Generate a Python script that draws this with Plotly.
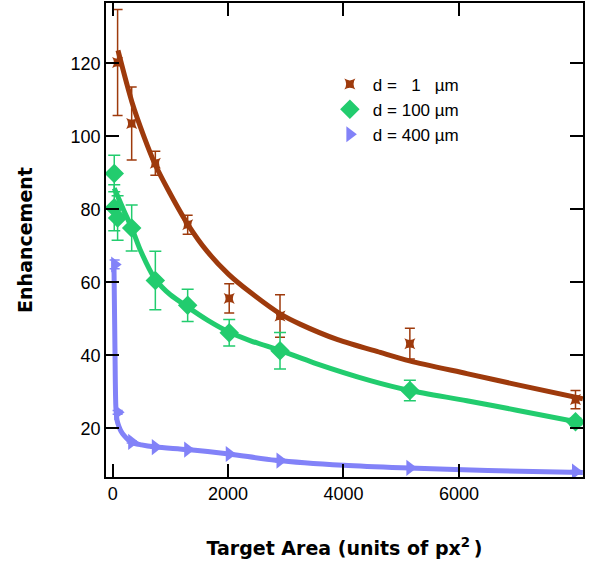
import plotly.graph_objects as go

# ---- data ----
x_brown = [86, 330, 740, 1300, 2020, 2900, 5150, 8020]
y_brown = [120.2, 103.5, 92.6, 75.8, 55.6, 50.8, 43.2, 27.9]
e_brown = [14.5, 10.0, 3.3, 2.6, 4.0, 5.8, 4.2, 2.5]

x_green = [28, 28, 86, 330, 740, 1300, 2020, 2900, 5150, 8020]
y_green = [89.8, 80.4, 77.6, 74.9, 60.5, 53.7, 46.2, 41.3, 30.4, 21.8]
e_green = [5.0, 6.3, 6.1, 6.3, 8.0, 4.4, 3.6, 5.0, 2.8, 1.0]

x_blue = [35, 86, 330, 740, 1300, 2020, 2900, 5150, 8020]
y_blue = [64.9, 24.4, 16.3, 14.9, 14.2, 13.0, 11.2, 9.2, 8.2]
e_blue = [1.2, 0.5, 0.3, 0.3, 0.3, 0.3, 0.3, 0.3, 0.3]

# fitted curves
fit_brown_x = [93, 334, 541, 731, 956, 1302, 1642, 2010, 2391, 2910, 3256, 3900, 4638, 5145, 6137, 7000, 8147]
fit_brown_y = [123.5, 109.4, 100.0, 92.5, 85.5, 75.9, 68.4, 62.2, 57.2, 51.3, 48.5, 44.3, 40.8, 38.5, 35.0, 32.0, 28.1]

fit_green_x = [28, 200, 346, 489, 731, 850, 1000, 1296, 1650, 2016, 2391, 2910, 3500, 4465, 5145, 6137, 7000, 8147]
fit_green_y = [85.8, 79.5, 74.3, 68.5, 61.0, 58.8, 56.6, 53.3, 49.6, 46.4, 44.0, 41.3, 37.9, 33.1, 30.4, 27.6, 25.0, 21.5]

fit_blue_x = [22, 40, 57, 80, 110, 143, 200, 316, 500, 748, 1296, 2016, 2823, 4000, 5010, 6500, 8147]
fit_blue_y = [66, 42, 25.5, 22, 20.5, 19.3, 18.0, 16.3, 15.5, 14.9, 14.2, 13.0, 11.3, 9.9, 9.2, 8.5, 7.9]

labels = ["d = \u20071\u2007 µm", "d = 100 µm", "d = 400 µm"]

c_brown = "#9E3A0C"
c_green = "#22CC6E"
c_blue = "#8282F8"

fig = go.Figure()

for fx, fy, c in [(fit_brown_x, fit_brown_y, c_brown),
                  (fit_green_x, fit_green_y, c_green),
                  (fit_blue_x, fit_blue_y, c_blue)]:
    fig.add_trace(go.Scatter(x=fx, y=fy, mode="lines", showlegend=False,
                             line=dict(color=c, width=5, shape="spline", smoothing=0.8),
                             hoverinfo="skip"))

fig.add_trace(go.Scatter(x=x_brown, y=y_brown, mode="markers", name=labels[0],
                         marker=dict(symbol="star-square", size=10, color=c_brown),
                         error_y=dict(type="data", array=e_brown, color=c_brown,
                                      thickness=1.5, width=5)))
fig.add_trace(go.Scatter(x=x_green, y=y_green, mode="markers", name=labels[1],
                         marker=dict(symbol="diamond", size=15, color=c_green),
                         error_y=dict(type="data", array=e_green, color=c_green,
                                      thickness=1.5, width=6)))
fig.add_trace(go.Scatter(x=x_blue, y=y_blue, mode="markers", name=labels[2],
                         marker=dict(symbol="triangle-right", size=14, color=c_blue),
                         error_y=dict(type="data", array=e_blue, color=c_blue,
                                      thickness=1.5, width=5)))

axis_common = dict(showline=True, linecolor="black", linewidth=1.5, mirror="allticks",
                   ticks="inside", ticklen=13, tickwidth=1.5, tickcolor="black",
                   showgrid=False, zeroline=False,
                   tickfont=dict(family="Liberation Sans, Arial", size=18, color="black"))

title_font = dict(family="DejaVu Sans", size=19, color="black", weight="bold")

fig.update_xaxes(range=[-115, 8150], tickvals=[0, 2000, 4000, 6000],
                 title=dict(text="Target Area (units of px<sup>2</sup>\u2009)", standoff=38,
                            font=title_font),
                 **axis_common)
fig.update_yaxes(range=[6.7, 136.5], tickvals=[20, 40, 60, 80, 100, 120],
                 title=dict(text="Enhancement", standoff=33, font=title_font),
                 **axis_common)

fig.update_layout(
    width=593, height=567,
    margin=dict(l=106, r=10, t=1, b=90),
    plot_bgcolor="white", paper_bgcolor="white",
    legend=dict(x=0.463, y=0.866, xanchor="left", yanchor="top",
                bgcolor="rgba(0,0,0,0)", borderwidth=0,
                font=dict(family="Liberation Sans, Arial", size=17, color="black"),
                tracegroupgap=0, itemwidth=36),
)

fig.write_html("out.html")
